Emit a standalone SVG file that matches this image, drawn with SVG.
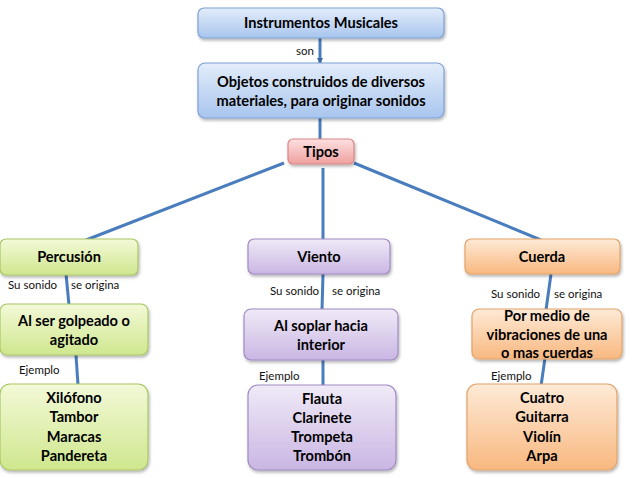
<svg xmlns="http://www.w3.org/2000/svg" width="638" height="478" viewBox="0 0 638 478">
<defs>
<linearGradient id="gBlue" x1="0" y1="0" x2="0" y2="1"><stop offset="0" stop-color="#e3edfa"/><stop offset="1" stop-color="#a8c5ee"/></linearGradient>
<linearGradient id="gPink" x1="0" y1="0" x2="0" y2="1"><stop offset="0" stop-color="#fde0e0"/><stop offset="1" stop-color="#f0a0a0"/></linearGradient>
<linearGradient id="gGreen" x1="0" y1="0" x2="0" y2="1"><stop offset="0" stop-color="#f3f9d8"/><stop offset="1" stop-color="#cfe78e"/></linearGradient>
<linearGradient id="gPurple" x1="0" y1="0" x2="0" y2="1"><stop offset="0" stop-color="#f0eaf7"/><stop offset="1" stop-color="#c9b6e3"/></linearGradient>
<linearGradient id="gOrange" x1="0" y1="0" x2="0" y2="1"><stop offset="0" stop-color="#feead6"/><stop offset="1" stop-color="#f8b880"/></linearGradient>
<filter id="sh" x="-10%" y="-10%" width="120%" height="130%"><feDropShadow dx="1" dy="2" stdDeviation="1.5" flood-color="#000" flood-opacity="0.3"/></filter>
<marker id="arr" markerWidth="6" markerHeight="6" refX="5" refY="3" orient="auto" markerUnits="userSpaceOnUse"><path d="M0,0 L6,3 L0,6 z" fill="#3d6aa3"/></marker>
</defs>
<style>
.b{stroke-width:1.2;filter:url(#sh)}
.blue{fill:url(#gBlue);stroke:#7fa1d4}
.pink{fill:url(#gPink);stroke:#d98585}
.green{fill:url(#gGreen);stroke:#a9c664}
.purple{fill:url(#gPurple);stroke:#a08ac3}
.orange{fill:url(#gOrange);stroke:#e2a46a}
.t{font-family:Lato,"Liberation Sans",sans-serif;font-weight:bold;font-size:14.6px;fill:#000;text-anchor:middle}
.s{font-family:Lato,"Liberation Sans",sans-serif;font-size:11.5px;fill:#111}
.c{stroke:#4a7dbd;stroke-width:3;fill:none}
</style>
<rect width="638" height="478" fill="#fff"/>
<g id="connectors">
<line class="c" x1="320" y1="38" x2="320" y2="63" stroke-width="2" marker-end="url(#arr)"/>
<line class="c" x1="320" y1="118" x2="320" y2="139"/>
<line class="c" x1="284" y1="163" x2="86" y2="240"/>
<line class="c" x1="323" y1="168" x2="323" y2="240"/>
<line class="c" x1="354" y1="163" x2="541" y2="240"/>
<line class="c" x1="66" y1="274" x2="69" y2="305"/>
<line class="c" x1="76" y1="355" x2="78" y2="385"/>
<line class="c" x1="323" y1="274" x2="322" y2="310"/>
<line class="c" x1="323" y1="359" x2="323" y2="386"/>
<line class="c" x1="551" y1="274" x2="546" y2="310"/>
<line class="c" x1="545" y1="358" x2="541" y2="386"/>
</g>
<g id="n-instrumentos"><rect class="b blue" x="198" y="8" width="246" height="30" rx="6"/><text class="t" x="321" y="28">Instrumentos Musicales</text></g>
<text class="s" x="296" y="55">son</text>
<g id="n-objetos"><rect class="b blue" x="198" y="63" width="246" height="55" rx="7"/><text class="t" x="321" y="87">Objetos construidos de diversos</text><text class="t" x="321" y="106">materiales, para originar sonidos</text></g>
<g id="n-tipos"><rect class="b pink" x="288" y="139" width="66" height="25" rx="5"/><text class="t" x="321" y="157">Tipos</text></g>
<g id="n-percusion"><rect class="b green" x="0" y="239" width="138" height="36" rx="6"/><text class="t" x="69" y="262">Percusión</text></g>
<text class="s" x="8" y="289">Su sonido</text><text class="s" x="71" y="289">se origina</text>
<g id="n-golpeado"><rect class="b green" x="0" y="304" width="148" height="51" rx="7"/><text class="t" x="74" y="326">Al ser golpeado o</text><text class="t" x="74" y="345">agitado</text></g>
<text class="s" x="19" y="374">Ejemplo</text>
<g id="n-percusion-ej"><rect class="b green" x="0" y="384" width="148" height="86" rx="10"/><text class="t" x="74" y="403">Xilófono</text><text class="t" x="74" y="422">Tambor</text><text class="t" x="74" y="442">Maracas</text><text class="t" x="74" y="461">Pandereta</text></g>
<g id="n-viento"><rect class="b purple" x="248" y="239" width="142" height="35" rx="6"/><text class="t" x="319" y="262">Viento</text></g>
<text class="s" x="270" y="295">Su sonido</text><text class="s" x="332" y="295">se origina</text>
<g id="n-soplar"><rect class="b purple" x="244" y="309" width="154" height="51" rx="7"/><text class="t" x="321" y="331">Al soplar hacia</text><text class="t" x="321" y="350">interior</text></g>
<text class="s" x="259" y="380">Ejemplo</text>
<g id="n-viento-ej"><rect class="b purple" x="248" y="385" width="148" height="85" rx="10"/><text class="t" x="322" y="404">Flauta</text><text class="t" x="322" y="423">Clarinete</text><text class="t" x="322" y="442">Trompeta</text><text class="t" x="322" y="461">Trombón</text></g>
<g id="n-cuerda"><rect class="b orange" x="465" y="239" width="155" height="35" rx="6"/><text class="t" x="542" y="262">Cuerda</text></g>
<text class="s" x="491" y="298">Su sonido</text><text class="s" x="554" y="298">se origina</text>
<g id="n-vibraciones"><rect class="b orange" x="472" y="309" width="150" height="50" rx="7"/><text class="t" x="547" y="321">Por medio de</text><text class="t" x="547" y="340">vibraciones de una</text><text class="t" x="547" y="358">o mas cuerdas</text></g>
<text class="s" x="491" y="380">Ejemplo</text>
<g id="n-cuerda-ej"><rect class="b orange" x="467" y="384" width="150" height="86" rx="10"/><text class="t" x="542" y="403">Cuatro</text><text class="t" x="542" y="422">Guitarra</text><text class="t" x="542" y="442">Violín</text><text class="t" x="542" y="461">Arpa</text></g>
</svg>
